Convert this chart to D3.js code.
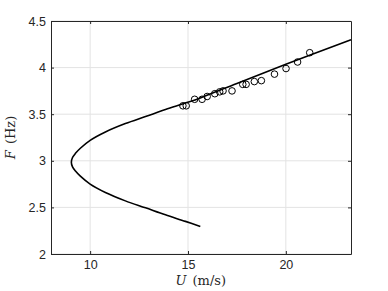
<!DOCTYPE html>
<html>
<head>
<meta charset="utf-8">
<script src="https://cdn.jsdelivr.net/npm/d3@7"></script>
<style>
  body { margin: 0; background: #fff; }
  text { font-family: "Liberation Sans", Arial, sans-serif; }
</style>
</head>
<body>
<div id="chart"></div>
<script>
// Model curve (U, F), from the lower end round the nose to the upper end
var curveU = [15.63, 14.87, 13.85, 12.83, 11.8, 10.78, 10.0, 9.5, 9.25, 9.1, 9.04,
              9.1, 9.25, 9.5, 10.0, 10.78, 11.8, 12.83, 13.85, 14.87, 15.63, 17.5, 20.0, 23.33];
var curveF = [2.295, 2.35, 2.42, 2.495, 2.57, 2.66, 2.75, 2.835, 2.89, 2.935, 2.985,
              3.035, 3.08, 3.135, 3.22, 3.31, 3.40, 3.475, 3.55, 3.62, 3.675, 3.83, 4.035, 4.30];

// Measured points
var dataU = [14.74, 14.91, 15.34, 15.72, 15.98, 16.37, 16.62, 16.79, 17.25, 17.80, 17.97, 18.39, 18.75, 19.42, 20.01, 20.60, 21.22];
var dataF = [3.59, 3.59, 3.66, 3.66, 3.69, 3.72, 3.74, 3.75, 3.75, 3.82, 3.82, 3.85, 3.86, 3.93, 3.99, 4.06, 4.16];

var xTicks = [10, 15, 20];
var yTicks = [2, 2.5, 3, 3.5, 4, 4.5];

var width = 388;
var height = 291;
var margin = { top: 21, right: 37, bottom: 37, left: 51 };
var innerW = width - margin.left - margin.right;
var innerH = height - margin.top - margin.bottom;

var x = d3.scaleLinear().domain([8.0, 23.33]).range([0, innerW]);
var y = d3.scaleLinear().domain([2, 4.5]).range([innerH, 0]);

var svg = d3.select("#chart")
    .append("svg")
    .attr("width", width)
    .attr("height", height);

var g = svg.append("g")
    .attr("transform", "translate(" + margin.left + "," + margin.top + ")");

// grid
g.selectAll(".gx")
    .data(xTicks)
    .enter()
    .append("line")
    .attr("x1", function (d) { return x(d); })
    .attr("x2", function (d) { return x(d); })
    .attr("y1", 0)
    .attr("y2", innerH)
    .attr("stroke", "#e3e3e3")
    .attr("stroke-width", 1);

g.selectAll(".gy")
    .data(yTicks)
    .enter()
    .append("line")
    .attr("x1", 0)
    .attr("x2", innerW)
    .attr("y1", function (d) { return y(d); })
    .attr("y2", function (d) { return y(d); })
    .attr("stroke", "#e3e3e3")
    .attr("stroke-width", 1);

// axes with inward ticks on all four sides
var axisColor = "#262626";
var xAxis = g.append("g")
    .attr("transform", "translate(0," + innerH + ")")
    .call(d3.axisBottom(x).tickValues(xTicks).tickSizeInner(-3).tickSizeOuter(0).tickPadding(6));
var xTop = g.append("g")
    .call(d3.axisTop(x).tickValues(xTicks).tickSizeInner(-3).tickSizeOuter(0).tickFormat(""));
var yAxis = g.append("g")
    .call(d3.axisLeft(y).tickValues(yTicks).tickSizeInner(-3).tickSizeOuter(0).tickPadding(5).tickFormat(d3.format("")));
var yRight = g.append("g")
    .attr("transform", "translate(" + innerW + ",0)")
    .call(d3.axisRight(y).tickValues(yTicks).tickSizeInner(-3).tickSizeOuter(0).tickFormat(""));

[xAxis, xTop, yAxis, yRight].forEach(function (a) {
    a.selectAll("path").attr("stroke", axisColor).attr("stroke-width", 1);
    a.selectAll("line").attr("stroke", axisColor);
    a.selectAll("text")
        .attr("fill", axisColor)
        .style("font-size", "12.5px")
        .style("font-family", "'Liberation Sans', Arial, sans-serif");
});

// model curve
var curvePts = curveU.map(function (u, i) { return [u, curveF[i]]; });
var line = d3.line()
    .x(function (d) { return x(d[0]); })
    .y(function (d) { return y(d[1]); })
    .curve(d3.curveCatmullRom.alpha(0.5));

g.append("path")
    .datum(curvePts)
    .attr("d", line)
    .attr("fill", "none")
    .attr("stroke", "#000")
    .attr("stroke-width", 1.6);

// data circles
g.selectAll(".pt")
    .data(dataU)
    .enter()
    .append("circle")
    .attr("cx", function (d) { return x(d); })
    .attr("cy", function (d, i) { return y(dataF[i]); })
    .attr("r", 3.3)
    .attr("fill", "none")
    .attr("stroke", "#000")
    .attr("stroke-width", 1);

// axis labels
var serif = "'DejaVu Serif', 'Liberation Serif', serif";
var xl = svg.append("text")
    .attr("x", margin.left + x(15.65))
    .attr("y", 285)
    .attr("text-anchor", "middle")
    .style("font-family", serif)
    .style("font-size", "13px")
    .attr("fill", axisColor);
xl.append("tspan").style("font-style", "italic").text("U");
xl.append("tspan").attr("dx", 2).text(" (m/s)");

var yl = svg.append("text")
    .attr("transform", "translate(14.5," + (margin.top + y(3.25)) + ") rotate(-90)")
    .attr("text-anchor", "middle")
    .style("font-family", serif)
    .style("font-size", "13px")
    .attr("fill", axisColor);
yl.append("tspan").style("font-style", "italic").text("F");
yl.append("tspan").attr("dx", 2).text(" (Hz)");
</script>
</body>
</html>
